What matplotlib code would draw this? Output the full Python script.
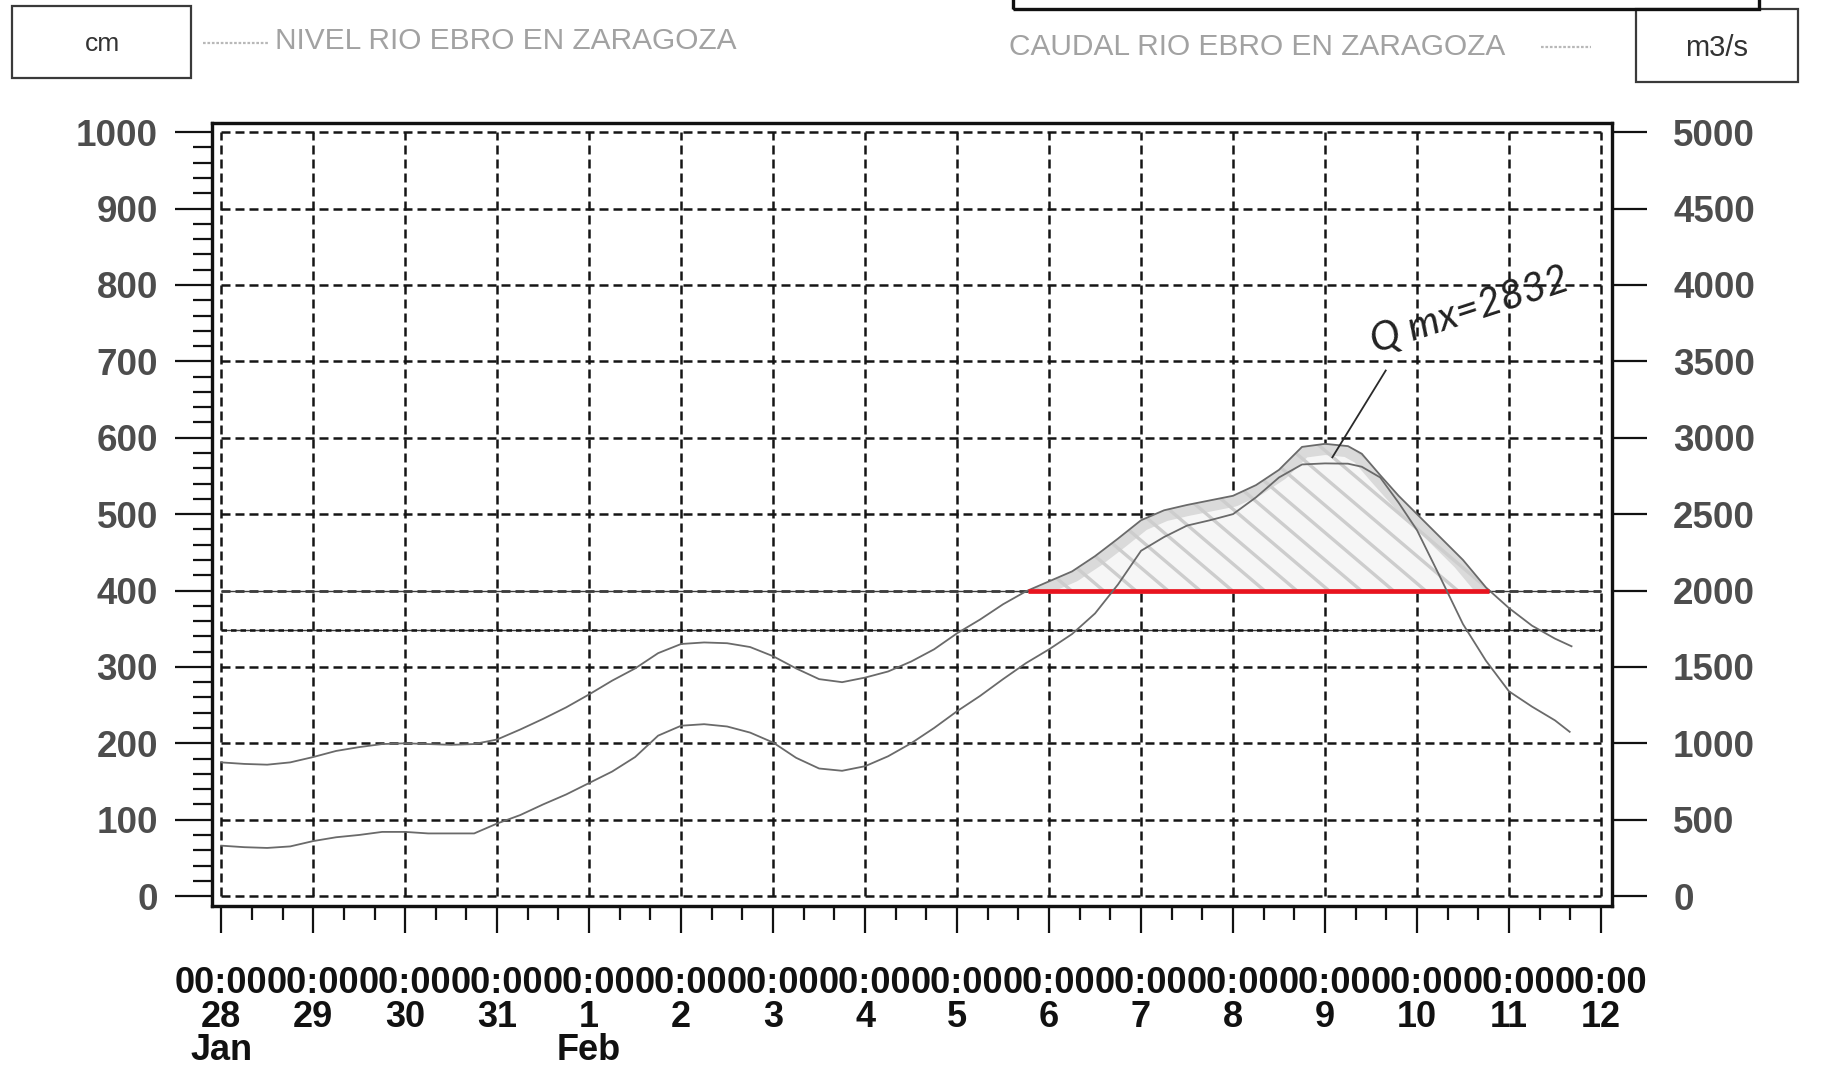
import numpy as np
import matplotlib
matplotlib.use("Agg")
import matplotlib.pyplot as plt
from matplotlib.patches import Rectangle
from matplotlib.lines import Line2D

plt.rcParams['font.family'] = ['Liberation Sans', 'DejaVu Sans']

# ---------------------------------------------------------------- data
day_ticks = list(range(16))                     # days since 28 Jan 00:00
day_labels = ['28', '29', '30', '31', '1', '2', '3', '4', '5', '6',
              '7', '8', '9', '10', '11', '12']
month_labels = {0: 'Jan', 4: 'Feb'}
time_label = '00:00'

level_ticks = list(range(0, 1001, 100))          # cm
flow_ticks = list(range(0, 5001, 500))           # m3/s

# River level (cm)
level_days = [0.0, 0.25, 0.5, 0.75, 1.0, 1.25, 1.5, 1.75, 2.0, 2.25, 2.5, 2.75,
              3.0, 3.25, 3.5, 3.75, 4.0, 4.25, 4.5, 4.75, 5.0, 5.25, 5.5, 5.75,
              6.0, 6.25, 6.5, 6.75, 7.0, 7.25, 7.5, 7.75, 8.0, 8.25, 8.5, 8.75,
              9.0, 9.25, 9.5, 9.75, 10.0, 10.25, 10.5, 10.75, 11.0, 11.25, 11.5,
              11.75, 12.0, 12.25, 12.4, 12.6, 12.8, 13.0, 13.25, 13.5, 13.75,
              14.0, 14.25, 14.5, 14.68]
level_cm = [175, 173, 172, 175, 182, 190, 195, 199, 200, 199, 198, 199,
            205, 218, 232, 247, 264, 282, 298, 318, 330, 332, 331, 326,
            314, 298, 284, 280, 286, 294, 307, 323, 344, 362, 382, 399,
            412, 425, 445, 468, 492, 505, 512, 518, 524, 538, 558,
            588, 592, 589, 579, 551, 524, 500, 470, 440, 404,
            377, 354, 337, 327]

# River flow (m3/s)
flow_days = [0.0, 0.25, 0.5, 0.75, 1.0, 1.25, 1.5, 1.75, 2.0, 2.25, 2.5, 2.75,
             3.0, 3.25, 3.5, 3.75, 4.0, 4.25, 4.5, 4.75, 5.0, 5.25, 5.5, 5.75,
             6.0, 6.25, 6.5, 6.75, 7.0, 7.25, 7.5, 7.75, 8.0, 8.25, 8.5, 8.75,
             9.0, 9.25, 9.5, 9.75, 10.0, 10.25, 10.5, 10.75, 11.0, 11.25, 11.5,
             11.75, 12.0, 12.25, 12.4, 12.6, 12.8, 13.0, 13.25, 13.5, 13.75,
             14.0, 14.25, 14.5, 14.66]
flow_m3s = [330, 320, 315, 325, 360, 385, 400, 420, 420, 410, 410, 410,
            475, 530, 600, 665, 740, 815, 910, 1050, 1115, 1125, 1110, 1070,
            1005, 905, 835, 820, 850, 915, 1000, 1100, 1210, 1310, 1420, 1525,
            1615, 1715, 1850, 2040, 2260, 2350, 2425, 2460, 2500, 2610, 2740,
            2825, 2832, 2830, 2810, 2740, 2575, 2395, 2090, 1780, 1540,
            1340, 1240, 1150, 1075]

threshold_cm = 400
secondary_cm = 348
flow_scale = 5          # m3/s per cm on the twin axis
qmax_text = 'Q mx=2832'

# ---------------------------------------------------------------- figure
W, H, DPI = 1826, 1074, 100
fig = plt.figure(figsize=(W / DPI, H / DPI), dpi=DPI)
fig.patch.set_facecolor('white')


def fx(px):
    return px / W


def fy(py):
    return 1 - py / H


ax = fig.add_axes([fx(212), fy(906), 1400 / W, 783 / H])
ax.set_xlim(-0.1, 15.12)
ax.set_ylim(-13, 1012)
ax.set_facecolor('white')

for s in ax.spines.values():
    s.set_linewidth(2.3)
    s.set_color('#111111')

# dashed grid box
dash = (0, (3.6, 2.0))
ax.vlines(day_ticks, level_ticks[0], level_ticks[-1], colors='#151515',
          linewidth=1.8, linestyles=[dash], zorder=1)
ax.hlines(level_ticks, day_ticks[0], day_ticks[-1], colors='#151515',
          linewidth=1.8, linestyles=[dash], zorder=1)

# threshold lines
ax.hlines([threshold_cm, secondary_cm], day_ticks[0], day_ticks[-1],
          colors='#3c3c3c', linewidth=1.0, zorder=2)
ax.hlines([secondary_cm], day_ticks[0], day_ticks[-1], colors='#151515',
          linewidth=1.8, linestyles=[(0, (2.2, 1.6))], zorder=2)

lv = np.array(level_cm, dtype=float)
ld = np.array(level_days, dtype=float)

# area above the threshold level
area = ax.fill_between(ld, threshold_cm, lv, where=lv >= threshold_cm,
                       interpolate=True, facecolor='#f6f6f6',
                       edgecolor='none', zorder=2)
clip = area.get_paths()[0]

# pencil shading along the upper edge
band, = ax.plot(ld, lv, color='#dadada', linewidth=16, zorder=2.2,
                solid_capstyle='butt')
band.set_clip_path(clip, ax.transData)

# diagonal hatching
px_day = 1400 / 15.22
px_cm = 783 / 1025
drop = 260
run = drop * px_cm / 0.85 / px_day
for x0 in np.arange(6.0, 15.0, 0.35):
    hl, = ax.plot([x0, x0 + run], [threshold_cm + drop, threshold_cm],
                  color='#cdcdcd', linewidth=2.4, zorder=2.3,
                  solid_capstyle='round')
    hl.set_clip_path(clip, ax.transData)

# red segment where the level exceeds the threshold
idx = np.where(lv >= threshold_cm)[0]
i0, i1 = idx[0], idx[-1]
x_start = np.interp(threshold_cm, [lv[i0 - 1], lv[i0]], [ld[i0 - 1], ld[i0]])
x_end = np.interp(threshold_cm, [lv[i1 + 1], lv[i1]], [ld[i1 + 1], ld[i1]])
ax.plot([x_start, x_end], [threshold_cm, threshold_cm], color='#e8141f',
        linewidth=3.4, solid_capstyle='butt', zorder=5)

# level curve
ax.plot(ld, lv, color='#6a6a6a', linewidth=1.3, zorder=4)

# left axis ticks
ax.set_yticks(level_ticks)
ax.set_yticks(list(range(0, 1001, 20)), minor=True)
ax.tick_params(axis='y', which='major', direction='out', length=27,
               width=1.6, pad=12, labelsize=26.5, labelcolor='#4d4d4d',
               color='#111111')
ax.tick_params(axis='y', which='minor', direction='out', length=14,
               width=1.6, color='#111111')
for t in ax.get_yticklabels():
    t.set_fontweight('bold')

# bottom ticks
ax.set_xticks(day_ticks)
ax.set_xticks(list(np.arange(0, 15.01, 1 / 3)), minor=True)
ax.tick_params(axis='x', which='major', direction='out', length=19.5,
               width=1.6, color='#111111', labelbottom=False)
ax.tick_params(axis='x', which='minor', direction='out', length=10,
               width=1.6, color='#111111')

# time / day / month labels stacked under each day tick
for d, lab in zip(day_ticks, day_labels):
    lines = [time_label, lab]
    if d in month_labels:
        lines.append(month_labels[d])
    ax.annotate('\n'.join(lines), xy=(d, 0),
                xycoords=('data', 'axes fraction'),
                xytext=(0, -43.5), textcoords='offset points',
                fontsize=26, fontweight='bold', color='#111111',
                ha='center', va='top', multialignment='center',
                linespacing=0.93)

# right axis: flow
ax2 = ax.twinx()
ax2.set_ylim(ax.get_ylim()[0] * flow_scale, ax.get_ylim()[1] * flow_scale)
for s in ax2.spines.values():
    s.set_linewidth(2.3)
    s.set_color('#111111')
ax2.set_yticks(flow_ticks)
ax2.tick_params(axis='y', which='major', direction='out', length=25,
                width=1.6, pad=19, labelsize=26.5, labelcolor='#4d4d4d',
                color='#111111')
for t in ax2.get_yticklabels():
    t.set_fontweight('bold')

fd = np.array(flow_days, dtype=float)
fq = np.array(flow_m3s, dtype=float)
ax2.plot(fd, fq, color='#6a6a6a', linewidth=1.3, zorder=4)

# handwritten note on the peak flow
k = int(np.argmax(fq))
ax2.plot([12.66, fd[k] + 0.08], [3440, fq[k] + 40], color='#2a2a2a',
         linewidth=1.3, zorder=6)
ax2.text(12.55, 3550, qmax_text, rotation=18, rotation_mode='anchor',
         ha='left', va='baseline', fontsize=29, fontstyle='italic',
         color='#222222', family=['Lato', 'DejaVu Sans'],
         fontweight='normal', zorder=6)

# ---------------------------------------------------------------- header
fig.patches.append(Rectangle((fx(12), fy(78)), (191 - 12) / W, (78 - 6) / H,
                             transform=fig.transFigure, fill=False,
                             edgecolor='#3a3a3a', linewidth=1.6))
fig.text(fx(102), fy(44), 'cm', fontsize=19, color='#333333',
         ha='center', va='center')

fig.lines.append(Line2D([fx(203), fx(268)], [fy(43), fy(43)],
                        transform=fig.transFigure, color='#b8b8b8',
                        linewidth=1.6, linestyle=(0, (1.2, 0.8))))
fig.text(fx(275), fy(41), 'NIVEL RIO EBRO EN ZARAGOZA', fontsize=21.5,
         color='#a2a2a2', ha='left', va='center')

fig.text(fx(1009), fy(47), 'CAUDAL RIO EBRO EN ZARAGOZA', fontsize=21.5,
         color='#a2a2a2', ha='left', va='center')
fig.lines.append(Line2D([fx(1541), fx(1591)], [fy(47), fy(47)],
                        transform=fig.transFigure, color='#b8b8b8',
                        linewidth=1.6, linestyle=(0, (1.2, 0.8))))

fig.patches.append(Rectangle((fx(1636), fy(82)), (1798 - 1636) / W,
                             (82 - 9) / H, transform=fig.transFigure,
                             fill=False, edgecolor='#3a3a3a', linewidth=1.6))
fig.text(fx(1717), fy(48), 'm3/s', fontsize=21, color='#333333',
         ha='center', va='center')

# frame at the top edge
fig.patches.append(Rectangle((fx(1013), fy(9)), (1759 - 1013) / W, 30 / H,
                             transform=fig.transFigure, fill=False,
                             edgecolor='#111111', linewidth=2.4))

fig.savefig('out.png', dpi=DPI, facecolor='white')
